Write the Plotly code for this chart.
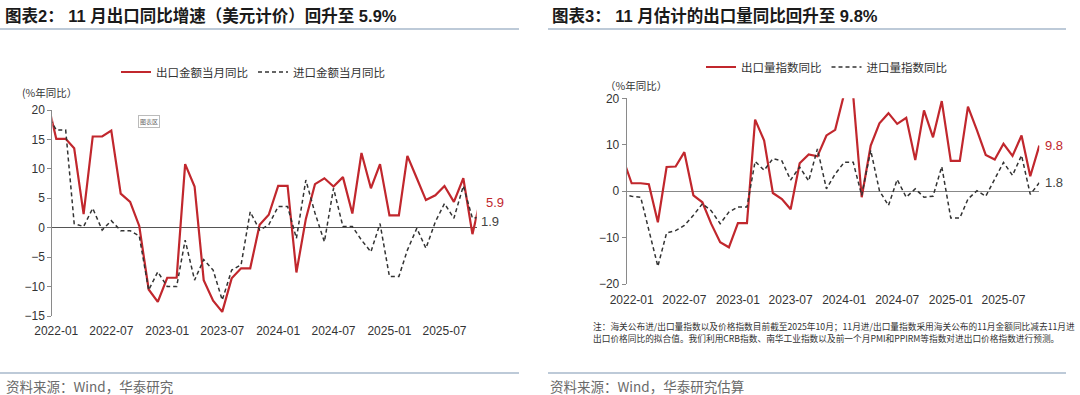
import pandas as pd
import plotly.graph_objects as go

# ---------------- data ----------------
# monthly, 2021-12 .. 2025-11
months = pd.date_range("2021-12-01", "2025-11-01", freq="MS")

# Chart 2: export / import value YoY (USD, %)
export_value_yoy = [
    22.0,
    15.1, 15.1, 13.5, 2.3, 15.5, 15.5, 16.5, 5.8, 4.4, 0.3, -10.5, -12.6,
    -8.5, -8.5, 10.8, 7.0, -8.9, -12.4, -14.3, -8.6, -6.9, -6.9, 0.5, 2.2,
    7.1, 7.1, -7.6, 1.5, 7.4, 8.4, 7.0, 8.6, 2.4, 12.7, 6.7, 10.8,
    2.1, 2.1, 12.2, 8.4, 4.7, 5.5, 7.1, 4.4, 8.4, -1.1, 5.9,
]
import_value_yoy = [
    19.4,
    16.6, 16.6, 0.7, 0.2, 3.3, -0.4, 1.2, -0.5, -0.5, -1.4, -10.6, -7.5,
    -10.0, -10.0, -2.1, -8.9, -5.4, -7.2, -12.3, -7.2, -6.3, 2.7, -0.4, 0.5,
    3.6, 3.6, -1.8, 8.1, 2.5, -2.4, 6.7, 0.2, 0.2, -2.1, -4.1, 0.7,
    -8.3, -8.3, -3.8, -0.1, -3.5, 1.0, 4.1, 1.6, 7.1, 1.6, 1.9,
]

# Chart 3: export / import volume index YoY (%)
export_volume_yoy = [
    7.2,
    1.7, 1.7, 1.5, -6.7, 5.2, 5.3, 8.4, -0.9, -2.4, -7.0, -11.0, -12.1,
    -6.9, -6.9, 15.4, 10.9, -0.4, -1.7, -3.9, 6.0, 7.9, 7.5, 12.0, 13.2,
    21.0, 20.5, -1.3, 9.8, 14.6, 16.8, 14.5, 15.8, 6.7, 17.4, 11.6, 19.4,
    6.5, 6.5, 18.2, 13.1, 7.8, 6.8, 10.2, 7.6, 12.0, 3.2, 9.8,
]
import_volume_yoy = [
    -0.6,
    -1.1, -1.3, -8.5, -16.2, -9.0, -8.5, -7.4, -5.2, -2.7, -4.2, -7.0, -4.5,
    -3.4, -3.4, 6.4, 4.5, 7.0, 6.5, 2.4, 5.2, 2.2, 9.1, 0.5, 3.7,
    6.2, 6.2, -0.9, 8.8, 0.1, -3.1, 2.5, -1.3, 0.5, -1.3, -1.1, 5.3,
    -5.8, -5.8, -1.7, 0.1, -1.1, 2.7, 6.2, 3.4, 7.7, -0.7, 1.8,
]

tick_months = ["2022-01", "2022-07", "2023-01", "2023-07",
               "2024-01", "2024-07", "2025-01", "2025-07"]

# ---------------- style ----------------
W, H = 1080, 395
RED = "#C1272D"
DARK = "#333333"
NUM_FONT = "Liberation Sans, Arial, Noto Sans CJK SC"
CJK_FONT = "Noto Sans CJK SC, Liberation Sans"
RULE = "#A7B9CB"


def px(x):
    return x / W


def py(y):
    return 1 - y / H


fig = go.Figure()

fig.add_trace(go.Scatter(x=months, y=export_value_yoy, name="出口金额当月同比",
                         mode="lines", line=dict(color=RED, width=2.2),
                         xaxis="x", yaxis="y", legend="legend"))
fig.add_trace(go.Scatter(x=months, y=import_value_yoy, name="进口金额当月同比",
                         mode="lines", line=dict(color=DARK, width=1.5, dash="4px,3px"),
                         xaxis="x", yaxis="y", legend="legend"))
fig.add_trace(go.Scatter(x=months, y=export_volume_yoy, name="出口量指数同比",
                         mode="lines", line=dict(color=RED, width=2.2),
                         xaxis="x2", yaxis="y2", legend="legend2"))
fig.add_trace(go.Scatter(x=months, y=import_volume_yoy, name="进口量指数同比",
                         mode="lines", line=dict(color=DARK, width=1.5, dash="4px,3px"),
                         xaxis="x2", yaxis="y2", legend="legend2"))

xcommon = dict(type="date", showgrid=False, zeroline=False, showline=False,
               ticks="", tickvals=[m + "-01" for m in tick_months], ticktext=tick_months,
               tickfont=dict(family=NUM_FONT, size=12, color=DARK), fixedrange=True,
               automargin=False)
ycommon = dict(showgrid=False, zeroline=True, zerolinewidth=1.2,
               showline=True, linecolor="#8a8a8a", linewidth=1,
               ticks="outside", ticklen=4, tickcolor="#8a8a8a",
               tickfont=dict(family=NUM_FONT, size=12, color=DARK), fixedrange=True,
               automargin=False)

fig.update_layout(
    width=W, height=H, autosize=False,
    margin=dict(l=0, r=0, t=0, b=0, pad=0),
    paper_bgcolor="white", plot_bgcolor="white",
    xaxis=dict(xcommon, domain=[px(52.3), px(476.7)], anchor="y",
               range=["2021-12-19", "2025-10-15"], ticklabelstandoff=6),
    yaxis=dict(ycommon, domain=[py(316), py(110)], anchor="x",
               range=[-15, 20], dtick=5, zerolinecolor="#555555"),
    xaxis2=dict(xcommon, domain=[px(626.7), px(1039.3)], anchor="y2",
                range=["2021-12-15", "2025-11-01"], ticklabelstandoff=7),
    yaxis2=dict(ycommon, domain=[py(284), py(98.3)], anchor="x2",
                range=[-20, 20], dtick=10, zerolinecolor="#888888"),
    legend=dict(orientation="h", x=px(116), xanchor="left", y=py(72), yanchor="middle",
                font=dict(family=CJK_FONT, size=11.5, color=DARK),
                bgcolor="rgba(0,0,0,0)", itemwidth=30),
    legend2=dict(orientation="h", x=px(701), xanchor="left", y=py(67), yanchor="middle",
                 font=dict(family=CJK_FONT, size=11.5, color=DARK),
                 bgcolor="rgba(0,0,0,0)", itemwidth=30),
    showlegend=True,
)

ann = []
# titles
ann.append(dict(text="<b>图表2： 11 月出口同比增速（美元计价）回升至 5.9%</b>",
                x=px(3), y=py(16), xref="paper", yref="paper", xanchor="left", yanchor="middle",
                showarrow=False, font=dict(family=NUM_FONT, size=16.5, color="#1a1a1a")))
ann.append(dict(text="<b>图表3： 11 月估计的出口量同比回升至 9.8%</b>",
                x=px(550), y=py(16), xref="paper", yref="paper", xanchor="left", yanchor="middle",
                showarrow=False, font=dict(family=NUM_FONT, size=16.5, color="#1a1a1a")))
# unit labels
ann.append(dict(text="(%年同比）", x=px(20), y=py(92), xref="paper", yref="paper",
                xanchor="left", yanchor="middle", showarrow=False,
                font=dict(family=CJK_FONT, size=10.5, color=DARK)))
ann.append(dict(text="（%年同比）", x=px(603), y=py(85), xref="paper", yref="paper",
                xanchor="left", yanchor="middle", showarrow=False,
                font=dict(family=CJK_FONT, size=10.5, color=DARK)))
# chart-area tag
ann.append(dict(text="图表区", x=px(149), y=py(121), xref="paper", yref="paper",
                xanchor="center", yanchor="middle", showarrow=False,
                font=dict(family=CJK_FONT, size=6, color="#666"),
                bordercolor="#bbbbbb", borderwidth=1, borderpad=1, bgcolor="white"))
# end-value labels
ann.append(dict(text=f"{export_value_yoy[-1]:.1f}", x=1, y=export_value_yoy[-1],
                xref="x domain", yref="y", xanchor="left", yanchor="middle",
                xshift=7, yshift=-10, showarrow=False,
                font=dict(family=NUM_FONT, size=13, color=RED)))
ann.append(dict(text=f"{import_value_yoy[-1]:.1f}", x=1, y=import_value_yoy[-1],
                xref="x domain", yref="y", xanchor="left", yanchor="middle",
                xshift=2, yshift=-5, showarrow=False,
                font=dict(family=NUM_FONT, size=13, color="#444")))
ann.append(dict(text=f"{export_volume_yoy[-1]:.1f}", x=1, y=export_volume_yoy[-1],
                xref="x2 domain", yref="y2", xanchor="left", yanchor="middle",
                xshift=4, showarrow=False,
                font=dict(family=NUM_FONT, size=13, color=RED)))
ann.append(dict(text=f"{import_volume_yoy[-1]:.1f}", x=1, y=import_volume_yoy[-1],
                xref="x2 domain", yref="y2", xanchor="left", yanchor="middle",
                xshift=4, showarrow=False,
                font=dict(family=NUM_FONT, size=13, color="#444")))
# note under chart 3
ann.append(dict(text="注：海关公布进/出口量指数以及价格指数目前截至2025年10月；11月进/出口量指数采用海关公布的11月金额同比减去11月进",
                x=px(591), y=py(326), xref="paper", yref="paper", xanchor="left", yanchor="middle",
                showarrow=False, font=dict(family=CJK_FONT, size=8.7, color=DARK)))
ann.append(dict(text="出口价格同比的拟合值。我们利用CRB指数、南华工业指数以及前一个月PMI和PPIRM等指数对进出口价格指数进行预测。",
                x=px(591), y=py(338), xref="paper", yref="paper", xanchor="left", yanchor="middle",
                showarrow=False, font=dict(family=CJK_FONT, size=8.7, color=DARK)))
# sources
ann.append(dict(text="资料来源：Wind，华泰研究", x=px(4), y=py(386), xref="paper", yref="paper",
                xanchor="left", yanchor="middle", showarrow=False,
                font=dict(family=CJK_FONT, size=13.5, color="#6a6a6a")))
ann.append(dict(text="资料来源：Wind，华泰研究估算", x=px(548), y=py(386), xref="paper", yref="paper",
                xanchor="left", yanchor="middle", showarrow=False,
                font=dict(family=CJK_FONT, size=13.5, color="#6a6a6a")))
fig.update_layout(annotations=ann)

shapes = []
for x0, x1 in [(0, 519), (548, 1066)]:
    for yy in (29, 373):
        shapes.append(dict(type="line", xref="paper", yref="paper",
                           x0=px(x0), x1=px(x1), y0=py(yy), y1=py(yy),
                           line=dict(color=RULE, width=1.5)))
fig.update_layout(shapes=shapes)

fig.write_html("out.html", config={"displayModeBar": False},
               post_script="document.body.style.margin='0px';document.body.style.overflow='hidden';")
